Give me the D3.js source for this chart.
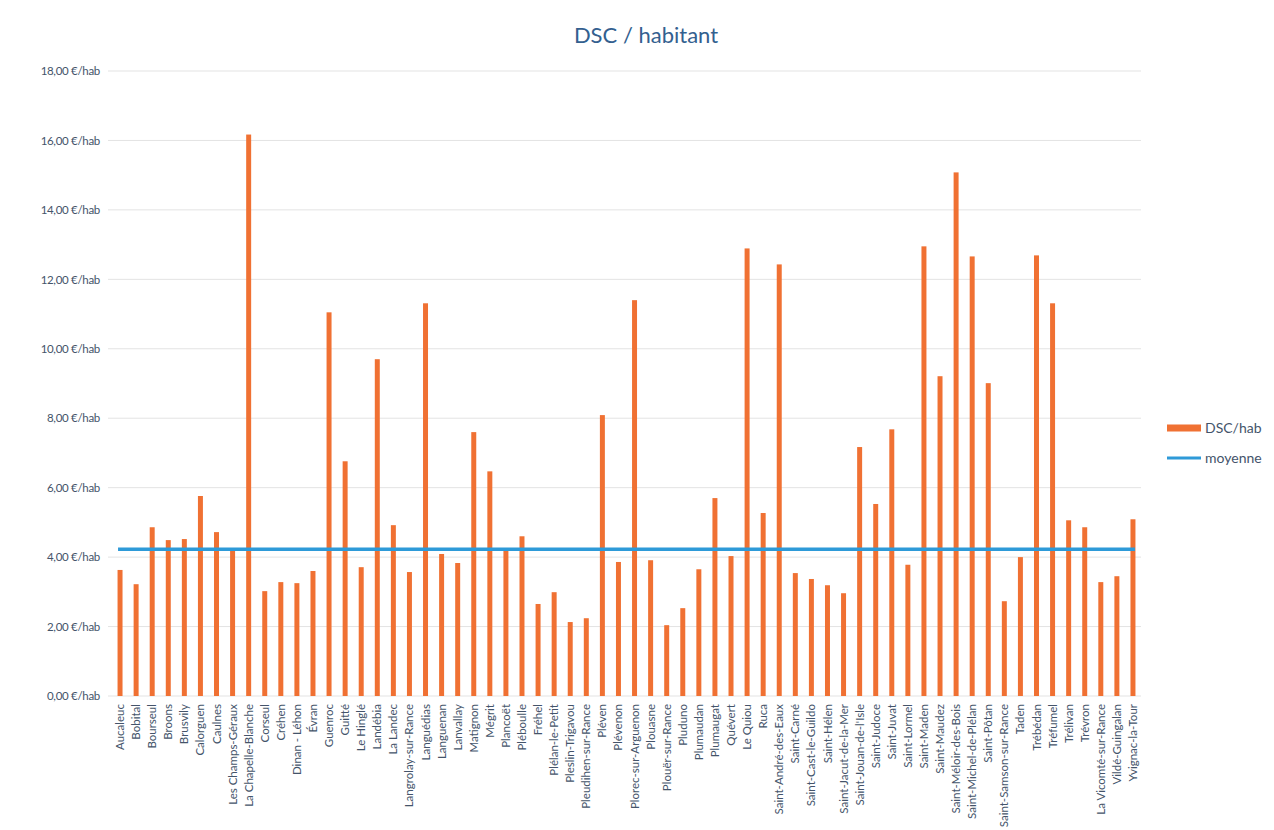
<!DOCTYPE html>
<html>
<head>
<meta charset="utf-8">
<title>DSC / habitant</title>
<script src="https://d3js.org/d3.v7.min.js"></script>
<style>
  body { margin: 0; background: #fff; }
  svg { display: block; font-family: Lato, 'Open Sans', sans-serif; }
</style>
</head>
<body>
<script>
'use strict';
// communes (x axis)
const communes = ['Aucaleuc', 'Bobital', 'Bourseul', 'Broons', 'Brusvily', 'Calorguen', 'Caulnes',
  'Les Champs-Géraux', 'La Chapelle-Blanche', 'Corseul', 'Créhen', 'Dinan - Léhon', 'Évran', 'Guenroc',
  'Guitté', 'Le Hinglé', 'Landébia', 'La Landec', 'Langrolay-sur-Rance', 'Languédias', 'Languenan',
  'Lanvallay', 'Matignon', 'Mégrit', 'Plancoët', 'Pléboulle', 'Fréhel', 'Plélan-le-Petit',
  'Pleslin-Trigavou', 'Pleudihen-sur-Rance', 'Pléven', 'Plévenon', 'Plorec-sur-Arguenon', 'Plouasne',
  'Plouër-sur-Rance', 'Pluduno', 'Plumaudan', 'Plumaugat', 'Quévert', 'Le Quiou', 'Ruca',
  'Saint-André-des-Eaux', 'Saint-Carné', 'Saint-Cast-le-Guildo', 'Saint-Hélen', 'Saint-Jacut-de-la-Mer',
  "Saint-Jouan-de-l'Isle", 'Saint-Judoce', 'Saint-Juvat', 'Saint-Lormel', 'Saint-Maden', 'Saint-Maudez',
  'Saint-Méloir-des-Bois', 'Saint-Michel-de-Plélan', 'Saint-Pôtan', 'Saint-Samson-sur-Rance', 'Taden',
  'Trébédan', 'Tréfumel', 'Trélivan', 'Trévron', 'La Vicomté-sur-Rance', 'Vildé-Guingalan', 'Yvignac-la-Tour'];

// DSC par habitant (€/hab)
const dscHab = [3.63, 3.22, 4.86, 4.49, 4.52, 5.76, 4.72,
  4.20, 16.17, 3.02, 3.28, 3.25, 3.60, 11.05,
  6.76, 3.71, 9.70, 4.92, 3.57, 11.31, 4.09,
  3.83, 7.60, 6.47, 4.18, 4.60, 2.65, 2.99,
  2.13, 2.24, 8.09, 3.86, 11.40, 3.91,
  2.04, 2.53, 3.65, 5.70, 4.03, 12.89, 5.27,
  12.43, 3.54, 3.37, 3.19, 2.96,
  7.17, 5.53, 7.68, 3.78, 12.95, 9.21,
  15.08, 12.66, 9.01, 2.73, 4.00,
  12.69, 11.31, 5.06, 4.86, 3.28, 3.45, 5.09];

const moyenne = 4.23;

const yTicks = [0, 2, 4, 6, 8, 10, 12, 14, 16, 18];
const legendItems = ['DSC/hab', 'moyenne'];

const W = 1274, H = 830;
const plot = {left: 112, right: 1141, top: 71, bottom: 696};
const orange = '#f07133';
const blue = '#2e9ad8';
const textCol = '#44546a';
const titleCol = '#33608f';

const svg = d3.select('body').append('svg')
  .attr('width', W)
  .attr('height', H);

svg.append('rect').attr('width', W).attr('height', H).attr('fill', '#fff');

const x = d3.scaleBand()
  .domain(communes)
  .range([plot.left, plot.right])
  .paddingInner(0.69)
  .paddingOuter(0.345);

const y = d3.scaleLinear()
  .domain([0, 18])
  .range([plot.bottom, plot.top]);

// gridlines
svg.append('g')
  .selectAll('line')
  .data(yTicks)
  .join('line')
  .attr('x1', plot.left - 4)
  .attr('x2', plot.right)
  .attr('y1', d => y(d))
  .attr('y2', d => y(d))
  .attr('stroke', '#e3e3e3')
  .attr('stroke-width', 1);

// y axis labels
const yAxis = svg.append('g')
  .attr('transform', `translate(${plot.left - 9},0)`)
  .call(d3.axisLeft(y).tickValues(yTicks).tickSize(0)
    .tickFormat(d => d3.format('.2f')(d).replace('.', ',') + ' €/hab'));
yAxis.select('.domain').remove();
yAxis.selectAll('text')
  .attr('font-size', 11.5)
  .attr('letter-spacing', -0.3)
  .attr('fill', textCol)
  .attr('font-family', 'Lato, sans-serif');

// bars
svg.append('g')
  .selectAll('rect')
  .data(dscHab)
  .join('rect')
  .attr('x', (d, i) => x(communes[i]))
  .attr('y', d => y(d))
  .attr('width', x.bandwidth())
  .attr('height', d => y(0) - y(d))
  .attr('fill', orange);

// mean line
const first = communes[0], last = communes[communes.length - 1];
svg.append('line')
  .attr('x1', x(first) + x.bandwidth() / 2 - 2)
  .attr('x2', x(last) + x.bandwidth() / 2 + 2)
  .attr('y1', y(moyenne))
  .attr('y2', y(moyenne))
  .attr('stroke', blue)
  .attr('stroke-width', 3.5);

// x axis labels
const xAxis = svg.append('g')
  .attr('transform', `translate(0,${plot.bottom})`)
  .call(d3.axisBottom(x).tickSize(0).tickPadding(0));
xAxis.select('.domain').remove();
xAxis.selectAll('text')
  .attr('transform', 'translate(0,8) rotate(-90)')
  .attr('text-anchor', 'end')
  .attr('dy', '0.35em')
  .attr('x', 0)
  .attr('y', 0)
  .attr('font-size', 11.5)
  .attr('fill', textCol)
  .attr('font-family', 'Lato, sans-serif');

// title
svg.append('text')
  .attr('x', 646)
  .attr('y', 43)
  .attr('text-anchor', 'middle')
  .attr('font-size', 22)
  .attr('fill', titleCol)
  .text('DSC / habitant');

// legend
const legend = svg.append('g')
  .selectAll('g')
  .data(legendItems)
  .join('g')
  .attr('transform', (d, i) => `translate(1167,${428 + i * 30})`);
legend.append('rect')
  .attr('x', 0)
  .attr('y', (d, i) => i === 0 ? -3.5 : -1.5)
  .attr('width', 34)
  .attr('height', (d, i) => i === 0 ? 7 : 3)
  .attr('fill', (d, i) => i === 0 ? orange : blue);
legend.append('text')
  .attr('x', 38)
  .attr('y', 0)
  .attr('dy', '0.35em')
  .attr('font-size', 14)
  .attr('fill', textCol)
  .text(d => d);
</script>
</body>
</html>
